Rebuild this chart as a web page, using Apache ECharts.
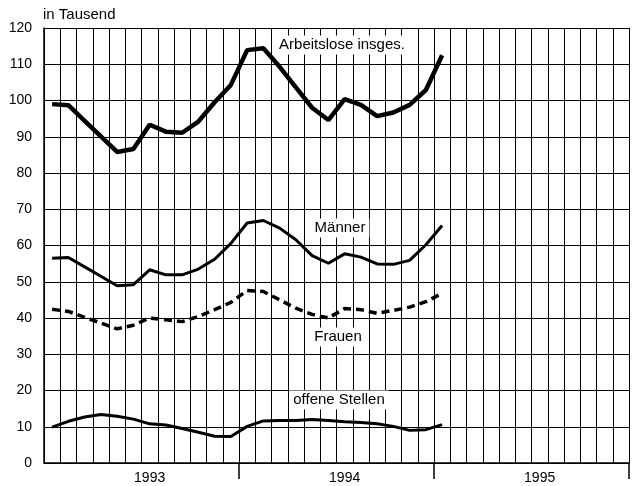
<!DOCTYPE html>
<html>
<head>
<meta charset="utf-8">
<script src="https://cdn.jsdelivr.net/npm/echarts@6/dist/echarts.min.js"></script>
<style>
  html, body { margin: 0; padding: 0; background: #fff; }
  #chart { width: 632px; height: 486px; }
</style>
</head>
<body>
<div id="chart"></div>
<script>
  // Monatswerte Jan 1993 .. Jan 1995 (in Tausend), Achse reicht bis Dez 1995
  var years = ['1993', '1994', '1995'];
  var months = [];
  years.forEach(function (y) {
    for (var m = 1; m <= 12; m++) months.push(y + '-' + (m < 10 ? '0' + m : m));
  });

  var arbeitslose = [99.0, 98.7, 94.4, 90.1, 85.8, 86.6, 93.3, 91.4, 91.1, 94.2, 99.5, 104.3,
    113.9, 114.4, 109.3, 103.6, 98.0, 94.6, 100.4, 98.8, 95.7, 96.7, 98.8, 102.9, 112.5];
  var maenner = [56.5, 56.7, 54.1, 51.5, 48.9, 49.2, 53.3, 51.9, 51.9, 53.5, 56.2, 60.6,
    66.2, 66.9, 64.8, 61.6, 57.2, 55.1, 57.7, 56.8, 54.9, 54.8, 55.9, 60.2, 65.5];
  var frauen = [42.4, 41.8, 40.2, 38.6, 37.0, 38.0, 40.0, 39.5, 39.0, 40.4, 42.3, 44.3,
    47.6, 47.3, 45.0, 42.7, 41.0, 40.0, 42.6, 42.3, 41.3, 42.1, 43.0, 44.5, 46.8];
  var offeneStellen = [9.9, 11.5, 12.7, 13.4, 12.9, 12.1, 10.8, 10.5, 9.5, 8.5, 7.4, 7.3,
    10.1, 11.6, 11.7, 11.7, 12.0, 11.7, 11.4, 11.2, 10.8, 10.1, 9.0, 9.2, 10.6];

  var font = "'Liberation Sans', Arial, sans-serif";
  var chart = echarts.init(document.getElementById('chart'));

  function label(text, x, y) {
    return {
      type: 'text', x: x, y: y, z: 100,
      style: {
        text: text, align: 'center', verticalAlign: 'middle',
        fill: '#000', font: '15px ' + font,
        backgroundColor: '#fff', padding: [2, 4]
      }
    };
  }

  function line(name, data, width, type) {
    return {
      name: name, type: 'line', data: data, symbol: 'none', smooth: false,
      lineStyle: { color: '#000', width: width, type: type || 'solid', cap: 'butt' }
    };
  }

  chart.setOption({
    backgroundColor: '#fff',
    animation: false,
    textStyle: { fontFamily: font },
    grid: { left: 44, top: 28, right: 3, bottom: 23 },
    xAxis: {
      type: 'category',
      data: months,
      boundaryGap: true,
      axisLine: { lineStyle: { color: '#000', width: 1.5 } },
      axisTick: {
        show: true, length: 16,
        interval: function (i) { return i === 12 || i === 24; },
        lineStyle: { color: '#000', width: 1.5 }
      },
      axisLabel: {
        interval: function (i) { return i % 12 === 6; },
        formatter: function (v) { return v.slice(0, 4); },
        color: '#000', fontSize: 14, margin: 8
      },
      splitLine: { show: true, interval: 0, lineStyle: { color: '#000', width: 1 } }
    },
    yAxis: {
      type: 'value', min: 0, max: 120, interval: 10,
      axisLine: { show: true, lineStyle: { color: '#000', width: 1.5 } },
      axisTick: { show: false },
      axisLabel: { color: '#000', fontSize: 14, margin: 12 },
      splitLine: { lineStyle: { color: '#000', width: 1 } }
    },
    graphic: [
      {
        type: 'text', x: 43, y: 15, z: 100,
        style: { text: 'in Tausend', fill: '#000', font: '15px ' + font, verticalAlign: 'middle' }
      },
      label('Arbeitslose insges.', 342, 45),
      label('Männer', 340, 228),
      label('Frauen', 338, 337),
      label('offene Stellen', 339, 400)
    ],
    series: [
      line('Arbeitslose insges.', arbeitslose, 4.5),
      line('Männer', maenner, 3),
      line('Frauen', frauen, 3.5, [8, 5]),
      line('offene Stellen', offeneStellen, 3)
    ]
  });
</script>
</body>
</html>
